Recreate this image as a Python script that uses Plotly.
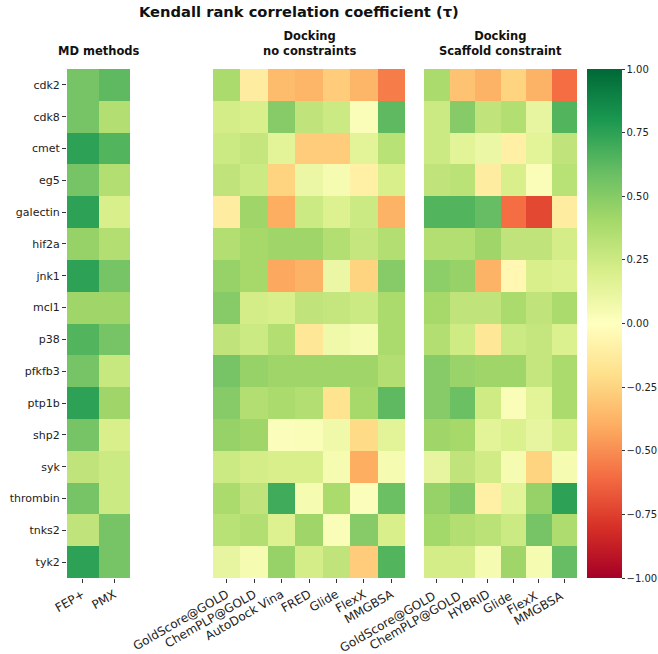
import plotly.graph_objects as go

targets = ["cdk2", "cdk8", "cmet", "eg5", "galectin", "hif2a", "jnk1", "mcl1",
           "p38", "pfkfb3", "ptp1b", "shp2", "syk", "thrombin", "tnks2", "tyk2"]

md_methods = ["FEP+", "PMX"]
md_values = [
    [0.55, 0.62], [0.55, 0.35], [0.75, 0.65], [0.55, 0.35],
    [0.75, 0.20], [0.45, 0.35], [0.75, 0.55], [0.42, 0.42],
    [0.65, 0.55], [0.55, 0.27], [0.75, 0.42], [0.55, 0.20],
    [0.30, 0.25], [0.55, 0.25], [0.30, 0.55], [0.75, 0.55],
]

dock_methods = ["GoldScore@GOLD", "ChemPLP@GOLD", "AutoDock Vina", "FRED", "Glide", "FlexX", "MMGBSA"]
dock_values = [
    [0.38, -0.12, -0.35, -0.37, -0.28, -0.37, -0.55],
    [0.22, 0.20, 0.50, 0.30, 0.25, 0.03, 0.62],
    [0.25, 0.28, 0.15, -0.28, -0.28, 0.15, 0.33],
    [0.30, 0.25, -0.25, 0.10, 0.05, -0.10, 0.20],
    [-0.12, 0.42, -0.40, 0.25, 0.18, 0.25, -0.38],
    [0.35, 0.40, 0.42, 0.42, 0.35, 0.28, 0.35],
    [0.45, 0.40, -0.42, -0.38, 0.10, -0.25, 0.50],
    [0.50, 0.22, 0.20, 0.30, 0.28, 0.25, 0.38],
    [0.30, 0.25, 0.35, -0.15, 0.08, 0.05, 0.38],
    [0.55, 0.45, 0.42, 0.42, 0.42, 0.42, 0.35],
    [0.50, 0.35, 0.38, 0.35, -0.18, 0.40, 0.62],
    [0.45, 0.42, 0.02, 0.03, 0.08, -0.22, 0.15],
    [0.25, 0.22, 0.20, 0.20, 0.05, -0.40, 0.05],
    [0.38, 0.30, 0.70, 0.05, 0.38, 0.02, 0.58],
    [0.33, 0.35, 0.18, 0.42, 0.03, 0.50, 0.20],
    [0.12, 0.05, 0.45, 0.22, 0.30, -0.28, 0.65],
]

scaf_methods = ["GoldScore@GOLD ", "ChemPLP@GOLD ", "HYBRID", "Glide ", "FlexX ", "MMGBSA "]
scaf_values = [
    [0.38, -0.32, -0.38, -0.25, -0.38, -0.60],
    [0.25, 0.50, 0.30, 0.35, 0.12, 0.65],
    [0.25, 0.15, 0.10, -0.10, 0.15, 0.30],
    [0.30, 0.32, -0.12, 0.20, 0.03, 0.33],
    [0.65, 0.65, 0.60, -0.60, -0.72, -0.12],
    [0.35, 0.35, 0.42, 0.30, 0.30, 0.22],
    [0.48, 0.45, -0.38, -0.05, 0.20, 0.18],
    [0.40, 0.30, 0.30, 0.38, 0.30, 0.38],
    [0.35, 0.24, -0.15, 0.25, 0.28, 0.19],
    [0.50, 0.44, 0.42, 0.42, 0.28, 0.38],
    [0.50, 0.58, 0.24, 0.03, 0.15, 0.38],
    [0.42, 0.40, 0.15, 0.19, 0.12, 0.21],
    [0.12, 0.30, 0.23, 0.05, -0.25, 0.05],
    [0.45, 0.51, -0.10, 0.15, 0.45, 0.75],
    [0.41, 0.35, 0.32, 0.25, 0.55, 0.37],
    [0.22, 0.22, 0.05, 0.42, 0.05, 0.60],
]

cbar_ticks = [1.0, 0.75, 0.5, 0.25, 0.0, -0.25, -0.5, -0.75, -1.0]
cbar_labels = ["1.00", "0.75", "0.50", "0.25", "0.00", "\u22120.25", "\u22120.50", "\u22120.75", "\u22121.00"]

W, H = 658, 654
top, bottom = 69, 578
FONT = "DejaVu Sans"

fig = go.Figure()
fig.add_trace(go.Heatmap(z=md_values, x=md_methods, y=targets, coloraxis="coloraxis",
                         xaxis="x", yaxis="y"))
fig.add_trace(go.Heatmap(z=dock_values, x=dock_methods, y=targets, coloraxis="coloraxis",
                         xaxis="x2", yaxis="y2"))
fig.add_trace(go.Heatmap(z=scaf_values, x=scaf_methods, y=targets, coloraxis="coloraxis",
                         xaxis="x3", yaxis="y3"))

ydom = [1 - bottom / H, 1 - top / H]
panels = [(67, 130), (213, 405), (424, 577)]

xcommon = dict(tickangle=-30, ticks="outside", ticklen=4, tickcolor="#333", showgrid=False,
               zeroline=False, showline=False, automargin=False,
               tickfont=dict(size=12, color="#222", family=FONT))
ycommon = dict(autorange="reversed", showgrid=False, zeroline=False, showline=False, automargin=False)

layout = dict(
    width=W, height=H,
    margin=dict(l=0, r=0, t=0, b=0, autoexpand=False),
    paper_bgcolor="white", plot_bgcolor="white",
    font=dict(family=FONT, size=11, color="#222"),
    coloraxis=dict(
        colorscale="RdYlGn", cmin=-1, cmax=1,
        colorbar=dict(x=587 / W, xanchor="left", y=1 - (top + bottom) / 2 / H, yanchor="middle",
                      len=bottom - top, lenmode="pixels", thickness=35, thicknessmode="pixels",
                      outlinewidth=0, ticks="outside", ticklen=3, tickcolor="#333",
                      tickvals=cbar_ticks, ticktext=cbar_labels, xpad=0, ypad=0,
                      tickfont=dict(size=10, color="#222", family=FONT)),
    ),
)
for i, (x0, x1) in enumerate(panels):
    sfx = "" if i == 0 else str(i + 1)
    layout["xaxis" + sfx] = dict(xcommon, domain=[x0 / W, x1 / W], anchor="y" + sfx)
    yax = dict(ycommon, domain=ydom, anchor="x" + sfx)
    if i == 0:
        yax.update(ticks="outside", ticklen=4, tickcolor="#333",
                   tickfont=dict(size=11, color="#222", family=FONT))
    else:
        yax.update(showticklabels=False, matches="y")
    layout["yaxis" + sfx] = yax

fig.update_layout(**layout)

fig.add_annotation(text="<b>Kendall rank correlation coefficient (\u03c4)</b>", x=299 / W, y=1 - 11 / H,
                   xref="paper", yref="paper", showarrow=False, xanchor="center", yanchor="middle",
                   font=dict(size=14.7, family=FONT, color="#111"))
subtitles = ["<b>MD methods</b>", "<b>Docking<br>no constraints</b>", "<b>Docking<br>Scaffold constraint</b>"]
for (x0, x1), t in zip(panels, subtitles):
    fig.add_annotation(text=t, x=(x0 + x1) / 2 / W, y=1 - 60 / H, xref="paper", yref="paper",
                       showarrow=False, xanchor="center", yanchor="bottom",
                       font=dict(size=11.5, family=FONT, color="#111"))

fig.write_html("out.html", config={"displayModeBar": False},
               post_script="document.body.style.margin='0';document.body.style.overflow='hidden';")
